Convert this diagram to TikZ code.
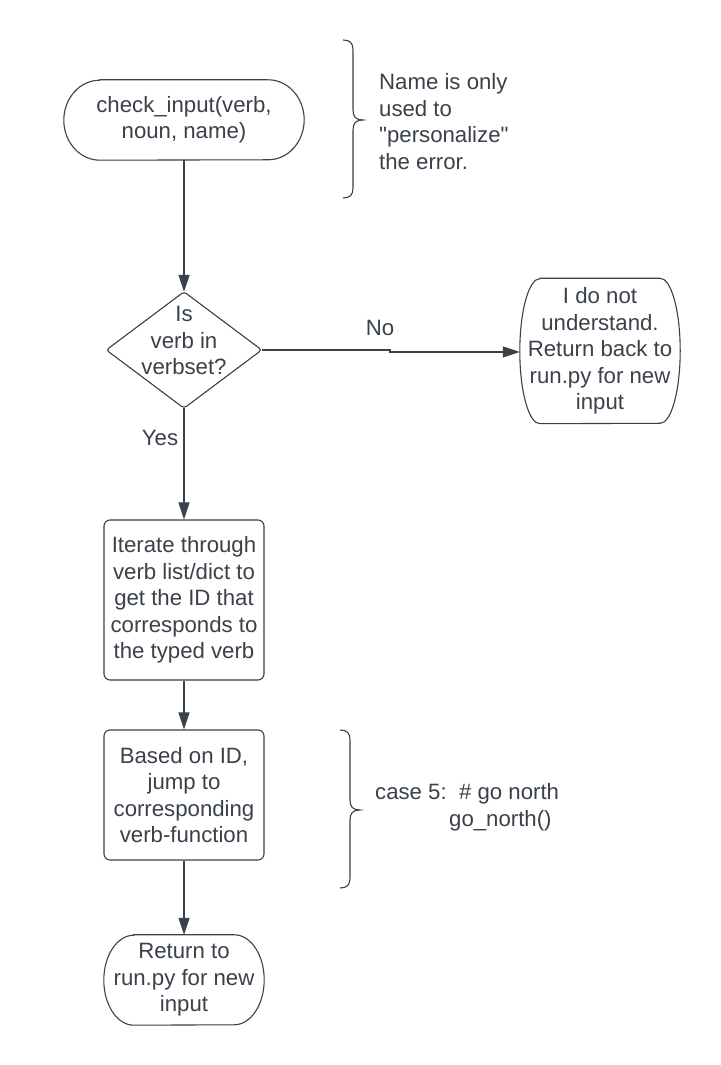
\documentclass[tikz,border=0pt]{standalone}
\usepackage{fontspec}
\setmainfont{Liberation Sans}
\usetikzlibrary{arrows.meta}
\definecolor{ink}{HTML}{3A414A}
\newcommand{\stadiumoutline}[3]{%
  \draw[shapeline] ([xshift=#2]#1.north west) -- ([xshift=-#2]#1.north east)
    arc[start angle=90,end angle=-90,x radius=#2,y radius=#3]
    -- ([xshift=#2]#1.south west)
    arc[start angle=270,end angle=90,x radius=#2,y radius=#3] -- cycle;}
\begin{document}
\begin{tikzpicture}[x=1pt,y=1pt,
  txt/.style={text=ink,font=\fontsize{22.2}{26.5}\selectfont,align=center,inner sep=0pt},
  shapeline/.style={draw=ink,line width=1.1pt},
  boxnode/.style={txt,inner sep=0pt},
  procbox/.style={txt,draw=ink,line width=1.1pt,rounded corners=6pt},
  arr/.style={draw=ink,line width=1.1pt,-{Triangle[length=17pt,width=11pt]}},
  lbl/.style={txt}]
\fill[white] (0,0) rectangle (720,1065);
\useasboundingbox (0,0) rectangle (720,1065);

% start terminal
\node[boxnode,minimum width=240,minimum height=80] (start) at (184,945) {check\_input(verb,\\noun, name)};
\stadiumoutline{start}{36}{40}

% decision
\node[inner sep=0pt,minimum width=155,minimum height=116] (dec) at (184,715) {};
\draw[shapeline,rounded corners=3pt] (dec.north) -- (dec.east) -- (dec.south) -- (dec.west) -- cycle;
\node[txt] (dectext) at (184,724.5) {Is\\verb in\\verbset?};

% no branch box
\node[boxnode,minimum width=160,minimum height=145] (nobox) at (600,714) {I do not\\understand.\\Return back to\\run.py for new\\input};
\stadiumoutline{nobox}{20}{72.5}

% process boxes
\node[procbox,minimum width=160,minimum height=160] (iter) at (184,465) {Iterate through\\verb list/dict to\\get the ID that\\corresponds to\\the typed verb};
\node[procbox,minimum width=160,minimum height=130] (based) at (184,270) {Based on ID,\\jump to\\corresponding\\verb-function};

% end terminal
\node[boxnode,minimum width=160,minimum height=90] (endt) at (184,85) {Return to\\run.py for new\\input};
\stadiumoutline{endt}{30}{45}

% connectors
\draw[arr] (start.south) -- (dec.north);
\coordinate (jog) at (390,713);
\draw[arr] (dec.east) -| (jog) -- (jog -| nobox.west);
\draw[arr] (dec.south) -- (iter.north);
\draw[arr] (iter.south) -- (based.north);
\draw[arr] (based.south) -- (endt.north);

% labels
\node[lbl] (nolbl) at (380,737) {No};
\node[lbl] (yeslbl) at (160,627) {Yes};

% brace 1 and note
\draw[shapeline] (343,1025) .. controls (350,1025) and (353,1022) .. (353,1015) -- (353,955)
  .. controls (353,948) and (356,945) .. (363,945)
  .. controls (356,945) and (353,942) .. (353,935) -- (353,877)
  .. controls (353,870) and (350,867) .. (343,867);
\node[txt,align=left,anchor=west] (note1) at (379,943.5) {Name is only\\used to\\\textquotedbl personalize\textquotedbl\\the error.};

% brace 2 and note
\draw[shapeline] (340,335) .. controls (347,335) and (350,332) .. (350,325) -- (350,265)
  .. controls (350,258) and (353,255) .. (360,255)
  .. controls (353,255) and (350,252) .. (350,245) -- (350,187)
  .. controls (350,180) and (347,177) .. (340,177);
\node[txt,align=left,anchor=west] (note2) at (375,257.5) {case 5:\ \ \# go north\\\hspace*{74pt}go\_north()};
\end{tikzpicture}
\end{document}
